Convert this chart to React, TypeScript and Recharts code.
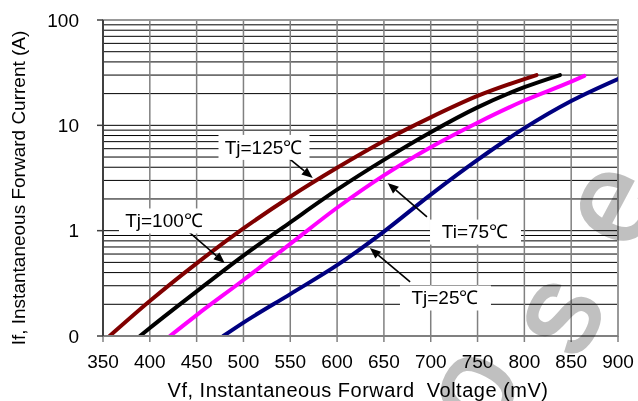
import React from "react";
import {
  LineChart,
  Line,
  XAxis,
  YAxis,
  CartesianGrid,
  ReferenceArea,
  ReferenceLine,
  ReferenceDot,
} from "recharts";

// ---------- data ----------
const vf125 = [357, 400, 450, 500, 550, 600, 650, 700, 750, 813];
const if125 = [0.1, 0.215, 0.49, 1.05, 2.1, 3.95, 7.1, 11.9, 19.0, 30];
const vf100 = [389.5, 400, 450, 500, 550, 600, 650, 700, 750, 800, 838];
const if100 = [0.1, 0.119, 0.265, 0.58, 1.2, 2.45, 4.7, 8.6, 14.8, 23, 30];
const vf75 = [421.5, 450, 500, 550, 600, 650, 700, 750, 800, 850, 864];
const if75 = [0.1, 0.158, 0.34, 0.75, 1.65, 3.35, 6.2, 10.6, 17.2, 26, 29.5];
const vf25 = [478.5, 500, 550, 600, 650, 700, 750, 800, 850, 900];
const if25 = [0.1, 0.134, 0.25, 0.47, 0.98, 2.2, 4.7, 9.4, 17, 27.5];

const seriesColors = ["#800000", "#000000", "#FF00FF", "#000080"];

const xTicks = [350, 400, 450, 500, 550, 600, 650, 700, 750, 800, 850, 900];
const yMajorTicks = [0.1, 1, 10, 100];
const yTickLabels = ["0", "1", "10", "100"];
const yMinorMultipliers = [1, 2, 3, 4, 5, 6, 7, 8, 9];

const xTitle = "Vf, Instantaneous Forward  Voltage (mV)";
const yTitle = "If, Instantaneous Forward Current (A)";

// annotations
const labelTexts = ["Tj=125\u2103", "Tj=100\u2103", "Ti=75\u2103", "Tj=25\u2103"];
const labelVf = [521.4, 415.1, 747.3, 715.2];
const labelIf = [6.24, 1.25, 0.98, 0.232];
const arrowFromVf = [544, 438, 696, 678];
const arrowFromIf = [5.24, 1.04, 1.35, 0.326];
const arrowToVf = [574, 480, 654, 635];
const arrowToIf = [3.17, 0.493, 2.84, 0.685];

// watermark letters (decoration)
const watermarkLetters = ["o", "s", "e"];
const watermarkCx = [478, 564, 617];
const watermarkCy = [392, 318, 207];

// ---------- helpers ----------
const zip = (xs: number[], ys: number[]) => xs.map((x, i) => ({ vf: x, cur: ys[i] }));
const series = [
  zip(vf125, if125),
  zip(vf100, if100),
  zip(vf75, if75),
  zip(vf25, if25),
];

const yAllTicks = yMajorTicks
  .slice(0, 3)
  .flatMap((d) => yMinorMultipliers.map((m) => +(d * m).toPrecision(6)))
  .concat([100]);

const FONT = "'Liberation Sans', Arial, Helvetica, sans-serif";
const TICK_MARGIN_Y = 18;
const TICK_SIZE = 6;

const YTick = (props: any) => {
  const { x, y, payload } = props;
  const idx = yMajorTicks.findIndex((v) => Math.abs(v - payload.value) < v * 1e-6);
  if (idx < 0) return <g />;
  return (
    <g>
      <line
        x1={x + TICK_MARGIN_Y}
        x2={x + TICK_MARGIN_Y + TICK_SIZE}
        y1={y}
        y2={y}
        stroke="#404040"
        strokeWidth={1.5}
      />
      <text x={x} y={y} dy="0.355em" textAnchor="end" fontSize={19} fontFamily={FONT} fill="#000">
        {yTickLabels[idx]}
      </text>
    </g>
  );
};

const Arrow = (p: any) => {
  const { x1, y1, x2, y2 } = p;
  const ang = Math.atan2(y2 - y1, x2 - x1);
  const L = 11;
  const W = 4.5;
  const bx = x2 - L * Math.cos(ang);
  const by = y2 - L * Math.sin(ang);
  const nx = -Math.sin(ang);
  const ny = Math.cos(ang);
  return (
    <g>
      <line x1={x1} y1={y1} x2={bx} y2={by} stroke="#000" strokeWidth={1.6} />
      <polygon
        points={`${x2},${y2} ${bx + nx * W},${by + ny * W} ${bx - nx * W},${by - ny * W}`}
        fill="#000"
      />
    </g>
  );
};

const makeLabel = (text: string) => (p: any) => {
  const { cx, cy } = p;
  return (
    <g>
      <rect x={cx - 45} y={cy - 12} width={91} height={25} fill="#fff" />
      <text x={cx} y={cy} dy="0.35em" textAnchor="middle" fontSize={19} fontFamily={FONT} fill="#000">
        {text}
      </text>
    </g>
  );
};

export default function App() {
  return (
    <div style={{ position: "absolute", left: 0, top: 0, width: 638, height: 401, background: "#fff" }}>
      <div style={{ position: "absolute", left: 0, top: 0 }}>
        <LineChart width={638} height={401} margin={{ top: 20, right: 20, bottom: 0, left: 0 }}>
          <CartesianGrid vertical={false} stroke="#000" strokeWidth={1} />
          <CartesianGrid horizontal={false} stroke="#808080" strokeWidth={1.5} />
          <XAxis
            type="number"
            dataKey="vf"
            domain={[350, 900]}
            ticks={xTicks}
            interval={0}
            height={65}
            allowDataOverflow
            tickSize={TICK_SIZE}
            tickMargin={13}
            tickLine={{ stroke: "#808080", strokeWidth: 1.5 }}
            axisLine={{ stroke: "#808080", strokeWidth: 2 }}
            tick={{ fontSize: 19, fontFamily: FONT, fill: "#000" }}
            label={{
              content: () => (
                <text
                  x={358}
                  y={397}
                  textAnchor="middle"
                  fontSize={20}
                  letterSpacing={0.5}
                  fontFamily={FONT}
                  fill="#000"
                  style={{ whiteSpace: "pre" }}
                >
                  {xTitle}
                </text>
              ),
            }}
          />
          <YAxis
            type="number"
            scale="log"
            domain={[0.1, 100]}
            ticks={yAllTicks}
            interval={0}
            width={103}
            allowDataOverflow
            tickSize={TICK_SIZE}
            tickMargin={TICK_MARGIN_Y}
            tickLine={false}
            axisLine={{ stroke: "#404040", strokeWidth: 2 }}
            tick={<YTick />}
            label={{
              content: () => (
                <text
                  x={18}
                  y={188}
                  transform="rotate(-90 18 188)"
                  textAnchor="middle"
                  dy="0.35em"
                  fontSize={19}
                  fontFamily={FONT}
                  fill="#000"
                >
                  {yTitle}
                </text>
              ),
            }}
          />
          <ReferenceArea
            x1={350}
            x2={900}
            y1={0.1}
            y2={100}
            fill="none"
            fillOpacity={0}
            stroke="#999999"
            strokeWidth={2}
          />
          {series.map((d, i) => (
            <Line
              key={i}
              data={d}
              dataKey="cur"
              type="monotone"
              stroke={seriesColors[i]}
              strokeWidth={4}
              strokeLinecap="round"
              dot={false}
              activeDot={false}
              isAnimationActive={false}
            />
          ))}
          {labelTexts.map((t, i) => (
            <ReferenceDot
              key={"lbl" + i}
              x={labelVf[i]}
              y={labelIf[i]}
              r={0}
              shape={makeLabel(t)}
            />
          ))}
          {labelTexts.map((t, i) => (
            <ReferenceLine
              key={"arr" + i}
              segment={[
                { x: arrowFromVf[i], y: arrowFromIf[i] },
                { x: arrowToVf[i], y: arrowToIf[i] },
              ]}
              shape={Arrow}
            />
          ))}
        </LineChart>
      </div>
      <svg
        width={638}
        height={401}
        style={{ position: "absolute", left: 0, top: 0, pointerEvents: "none", mixBlendMode: "multiply" }}
      >
        {watermarkLetters.map((ch, i) => (
          <text
            key={ch + i}
            x={watermarkCx[i]}
            y={watermarkCy[i]}
            dy="0.26em"
            textAnchor="middle"
            transform={`rotate(-62 ${watermarkCx[i]} ${watermarkCy[i]})`}
            fontSize={128}
            fontFamily={FONT}
            fill="#c0c0c0"
            stroke="#c0c0c0"
            strokeWidth={3}
          >
            {ch}
          </text>
        ))}
      </svg>
    </div>
  );
}
